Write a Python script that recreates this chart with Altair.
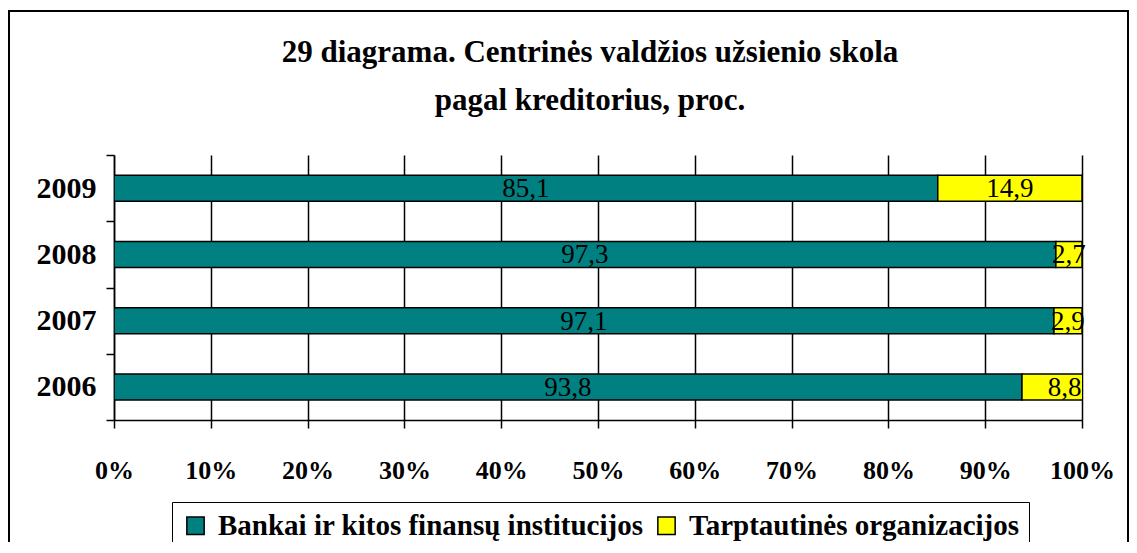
import altair as alt
import pandas as pd

years = ["2006", "2007", "2008", "2009"]
banks = [93.8, 97.1, 97.3, 85.1]
intl = [8.8, 2.9, 2.7, 14.9]
series = ["Bankai ir kitos finansų institucijos", "Tarptautinės organizacijos"]
colors = ["#008080", "#FFFF00"]
x_ticks = [0, 10, 20, 30, 40, 50, 60, 70, 80, 90, 100]
title_lines = ["29 diagrama. Centrinės valdžios užsienio skola", "pagal kreditorius, proc."]

rows = []
for y, b, i in zip(years, banks, intl):
    rows.append({"year": y, "series": series[0], "value": b, "order": 0})
    rows.append({"year": y, "series": series[1], "value": i, "order": 1})
df = pd.DataFrame(rows)

W, H = 968, 265
FONT = "Liberation Serif"

base = alt.Chart(df).transform_stack(
    stack="value", groupby=["year"], as_=["v0", "v1"],
    sort=[alt.SortField("order", order="ascending")]
).transform_calculate(
    mid="(datum.v0 + datum.v1) / 2",
    label="replace(format(datum.value, '.1f'), '.', ',')"
)

yenc = alt.Y("year:N", sort="descending",
             scale=alt.Scale(paddingInner=0, paddingOuter=0),
             axis=alt.Axis(title=None, labelFont=FONT, labelFontSize=30, labelFontWeight="bold",
                           labelColor="black", tickBand="extent", tickSize=8, tickColor="black",
                           tickWidth=1.5, domainColor="black", domainWidth=1.5, labelPadding=10,
                           grid=False))

bars = base.mark_bar(clip=True, stroke="black", strokeWidth=1.5, size=26).encode(
    x=alt.X("v0:Q", scale=alt.Scale(domain=[0, 100], nice=False),
            axis=alt.Axis(title=None, values=x_ticks, labelExpr="datum.value + '%'",
                          labelFont=FONT, labelFontSize=26, labelFontWeight="bold",
                          labelColor="black", labelFlush=False, labelOverlap=False,
                          grid=True, gridColor="black", gridWidth=1.5,
                          gridOpacity=1, tickSize=8, tickColor="black", tickWidth=1.5,
                          domainColor="black", domainWidth=1.5, labelPadding=29)),
    x2="v1:Q",
    y=yenc,
    color=alt.Color("series:N", scale=alt.Scale(domain=series, range=colors),
                    legend=alt.Legend(title=None, orient="none", legendX=58, legendY=347,
                                      direction="horizontal", strokeColor="black",
                                      padding=9, symbolType="square", symbolSize=300,
                                      symbolStrokeColor="black", symbolStrokeWidth=1.5,
                                      labelFont=FONT, labelFontSize=29, labelFontWeight="bold",
                                      labelColor="black", columnPadding=8, labelLimit=700,
                                      labelOffset=8)),
    order=alt.Order("order:Q"),
)

labels = base.mark_text(font=FONT, fontSize=27, color="black", dy=1).encode(
    x=alt.X("mid:Q"),
    y=alt.Y("year:N", sort="descending"),
    text="label:N",
)

frame = alt.Chart(pd.DataFrame({"a": [0]})).mark_rect(
    fillOpacity=0, stroke="black", strokeWidth=2
).encode(x=alt.value(-105), x2=alt.value(1014), y=alt.value(-144), y2=alt.value(460))

chart = alt.layer(frame, bars, labels).properties(
    width=W, height=H,
    title=alt.TitleParams(title_lines, font=FONT, fontSize=31, fontWeight="bold",
                          color="black", lineHeight=48, anchor="middle", offset=0,
                          dy=107, dx=-8),
    autosize=alt.AutoSizeParams(type="none"),
    padding={"left": 106, "top": 147, "right": 47, "bottom": 122},
).configure_view(stroke=None)

chart.save("out.html", embed_options={"renderer": "svg", "actions": False})
